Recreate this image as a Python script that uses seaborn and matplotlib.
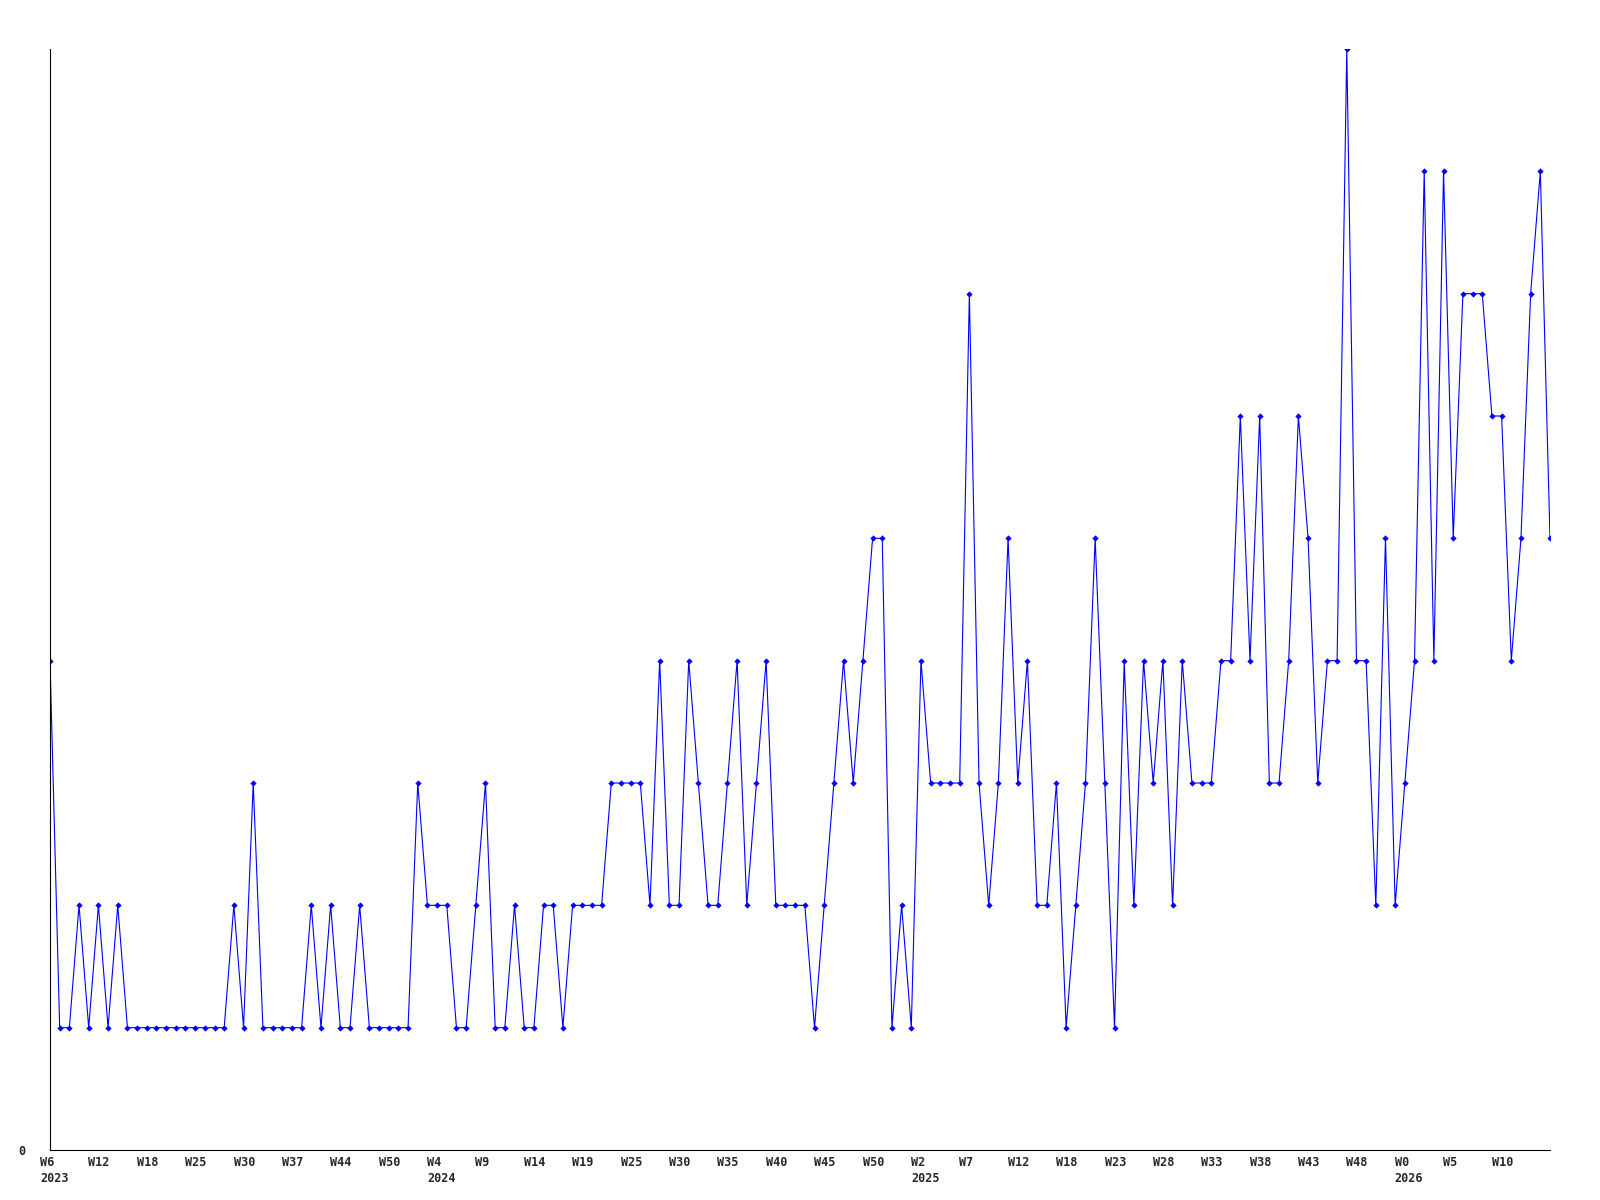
import matplotlib
matplotlib.use("Agg")
import matplotlib.pyplot as plt
import matplotlib.transforms as mtransforms
import seaborn as sns

# weekly counts, one per week, starting at W6 2023
counts = [
    4, 1, 1, 2, 1, 2, 1, 2, 1, 1,
    1, 1, 1, 1, 1, 1, 1, 1, 1,
    2, 1, 3, 1, 1, 1, 1, 1, 2, 1,
    2, 1, 1, 2, 1, 1, 1, 1, 1, 3,
    2, 2, 2, 1, 1, 2, 3, 1, 1, 2,
    1, 1, 2, 2, 1, 2, 2, 2, 2, 3,
    3, 3, 3, 2, 4, 2, 2, 4, 3, 2,
    2, 3, 4, 2, 3, 4, 2, 2, 2, 2,
    1, 2, 3, 4, 3, 4, 5, 5, 1, 2,
    1, 4, 3, 3, 3, 3, 7, 3, 2, 3,
    5, 3, 4, 2, 2, 3, 1, 2, 3, 5,
    3, 1, 4, 2, 4, 3, 4, 2, 4, 3,
    3, 3, 4, 4, 6, 4, 6, 3, 3, 4,
    6, 5, 3, 4, 4, 9, 4, 4, 2, 5,
    2, 3, 4, 8, 4, 8, 5, 7, 7, 7,
    6, 6, 4, 5, 7, 8, 5,
]

# tick labels (every 5th week)
week_labels = ["W6", "W12", "W18", "W25", "W30", "W37", "W44", "W50",
               "W4", "W9", "W14", "W19", "W25", "W30", "W35", "W40", "W45", "W50",
               "W2", "W7", "W12", "W18", "W23", "W28", "W33", "W38", "W43", "W48",
               "W0", "W5", "W10"]
year_labels = {"W6": "2023", "W4": "2024", "W2": "2025", "W0": "2026"}

sns.set_style("white")
plt.rcParams["font.family"] = ["DejaVu Sans Mono"]

fig = plt.figure(figsize=(16, 12), dpi=100)
ax = fig.add_axes([50 / 1600, 50 / 1200, 1500 / 1600, 1101 / 1200])

x = list(range(len(counts)))
sns.lineplot(x=x, y=counts, ax=ax, color="#0000FF", linewidth=0.8,
             marker="D", markersize=3.2, markeredgewidth=0)

ax.set_xlim(0, len(counts) - 1)
ax.set_ylim(0, 9)

tick_pos = list(range(0, 5 * len(week_labels), 5))
labels = []
seen = set()
for w in week_labels:
    if w in year_labels and w not in seen:
        labels.append(w + "\n" + year_labels[w])
        seen.add(w)
    else:
        labels.append(w)

ax.tick_params(axis="x", length=0, pad=4.5)
ax.tick_params(axis="y", length=0, pad=18)
ax.set_xticks(tick_pos)
ax.set_xticklabels(labels, fontsize=8.5, fontweight="bold", ha="left",
                   multialignment="left", linespacing=1.3)
ax.set_yticks([0])
ax.set_yticklabels(["0"], fontsize=8.5, fontweight="bold")

# labels start a little left of their week
shift = mtransforms.ScaledTranslation(-10 / 100, 0, fig.dpi_scale_trans)
for lbl in ax.get_xticklabels():
    lbl.set_transform(lbl.get_transform() + shift)

sns.despine(ax=ax)
for s in ("left", "bottom"):
    ax.spines[s].set_color("black")
    ax.spines[s].set_linewidth(0.8)
ax.set_xlabel("")
ax.set_ylabel("")

fig.savefig("out.png", dpi=100)
